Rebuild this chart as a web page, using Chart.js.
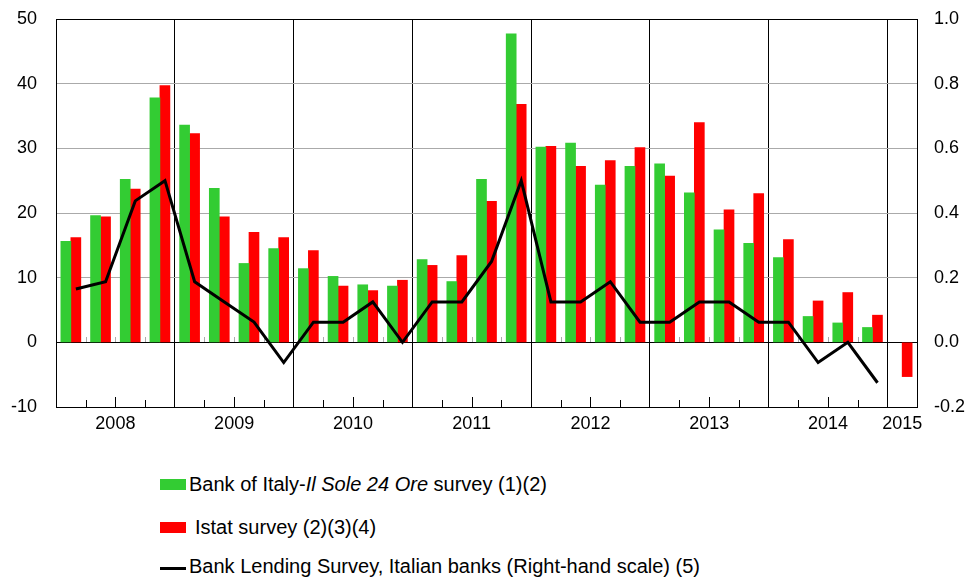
<!DOCTYPE html>
<html>
<head>
<meta charset="utf-8">
<script src="https://cdn.jsdelivr.net/npm/chart.js@4"></script>
<style>
  body { margin: 0; background: #fff; font-family: 'Liberation Sans', Arial, sans-serif; }
  #wrap { position: relative; width: 973px; height: 583px; overflow: hidden; }
  #myChart { position: absolute; left: 0; top: 0; }
  .leg { position: absolute; font-size: 20px; line-height: 20px; color: #000; white-space: nowrap; }
  .mark { position: absolute; left: 160px; width: 26px; }
</style>
</head>
<body>
<div id="wrap">
  <canvas id="myChart" width="973" height="440"></canvas>
  <div class="mark" style="top:479px;height:11px;background:#33cc33"></div>
  <div class="leg" style="left:189px;top:474px">Bank of Italy-<i>Il Sole 24 Ore</i> survey (1)(2)</div>
  <div class="mark" style="top:522px;height:11px;background:#ff0000"></div>
  <div class="leg" style="left:195px;top:517px">Istat survey (2)(3)(4)</div>
  <div class="mark" style="top:567px;height:3px;background:#000"></div>
  <div class="leg" style="left:189px;top:556px">Bank Lending Survey, Italian banks (Right-hand scale) (5)</div>
</div>
<script>
// quarters 2008 Q1 .. 2015 Q1
var quarters = [
  '2008 Q1', '2008 Q2', '2008 Q3', '2008 Q4',
  '2009 Q1', '2009 Q2', '2009 Q3', '2009 Q4',
  '2010 Q1', '2010 Q2', '2010 Q3', '2010 Q4',
  '2011 Q1', '2011 Q2', '2011 Q3', '2011 Q4',
  '2012 Q1', '2012 Q2', '2012 Q3', '2012 Q4',
  '2013 Q1', '2013 Q2', '2013 Q3', '2013 Q4',
  '2014 Q1', '2014 Q2', '2014 Q3', '2014 Q4',
  '2015 Q1',
];
var years = ['2008', '2009', '2010', '2011', '2012', '2013', '2014', '2015'];

// Bank of Italy - Il Sole 24 Ore survey
var bancaItalia = [
  15.6, 19.6, 25.2, 37.8, 33.6, 23.8, 12.2, 14.5,
  11.4, 10.2, 8.9, 8.7, 12.8, 9.4, 25.2, 47.7,
  30.2, 30.8, 24.3, 27.2, 27.6, 23.1, 17.4, 15.3,
  13.1, 4.0, 3.0, 2.3, null,
];
// Istat survey
var istat = [
  16.2, 19.4, 23.7, 39.7, 32.3, 19.4, 17.0, 16.2,
  14.2, 8.7, 8.0, 9.6, 11.9, 13.4, 21.8, 36.8,
  30.3, 27.2, 28.1, 30.1, 25.7, 34.0, 20.5, 23.0,
  15.9, 6.4, 7.7, 4.2, -5.3,
];
// Bank Lending Survey (right-hand scale)
var bls = [
  0.165, 0.1875, 0.4375, 0.5, 0.1875, 0.125, 0.0625, -0.0625,
  0.0625, 0.0625, 0.125, 0, 0.125, 0.125, 0.25, 0.5,
  0.125, 0.125, 0.1875, 0.0625, 0.0625, 0.125, 0.125, 0.0625,
  0.0625, -0.0625, 0, -0.125, null,
];

var leftTicks = [-10, 0, 10, 20, 30, 40, 50];
var rightTicks = [-0.2, 0, 0.2, 0.4, 0.6, 0.8, 1.0];

var fontFamily = "'Liberation Sans', Arial, sans-serif";

// year label sits in the middle of its quarters
var yearCenters = years.map(function (y) {
  var idx = [];
  quarters.forEach(function (q, i) { if (q.indexOf(y) === 0) idx.push(i); });
  return (idx[0] + idx[idx.length - 1]) / 2;
});

// line points sit over the red bars (a bit right of the category centre)
var lineShift = 0.17;
var blsPoints = bls.map(function (v, i) {
  return { x: i + lineShift, y: v };
});

// small quarter ticks on the bottom axis and on the zero line
var quarterTicks = {
  id: 'quarterTicks',
  beforeDatasetsDraw: function (chart) {
    var ctx = chart.ctx;
    var xs = chart.scales.x;
    var ys = chart.scales.y;
    var zero = Math.round(ys.getPixelForValue(0));
    var bottom = Math.round(chart.chartArea.bottom);
    ctx.save();
    ctx.lineWidth = 1;
    for (var i = 1; i < quarters.length; i++) {
      if (quarters[i].indexOf('Q1') > 0) continue;
      var x = Math.round((xs.getPixelForValue(i - 1) + xs.getPixelForValue(i)) / 2) + 0.5;
      var len = quarters[i].indexOf('Q3') > 0 ? 10 : 7;
      ctx.strokeStyle = '#000';
      ctx.beginPath();
      ctx.moveTo(x, bottom);
      ctx.lineTo(x, bottom - len);
      ctx.stroke();
      ctx.strokeStyle = '#aaa';
      ctx.beginPath();
      ctx.moveTo(x, zero);
      ctx.lineTo(x, zero - 5);
      ctx.stroke();
    }
    ctx.restore();
  },
};

window.onload = function () {
  var ctx = document.getElementById('myChart').getContext('2d');
  var myChart = new Chart(ctx, {
    data: {
      labels: quarters,
      datasets: [
        {
          type: 'line',
          label: 'Bank Lending Survey, Italian banks (Right-hand scale) (5)',
          data: blsPoints,
          xAxisID: 'xl',
          yAxisID: 'y1',
          borderColor: '#000',
          borderWidth: 3,
          pointRadius: 0,
          tension: 0,
          order: 0,
        },
        {
          type: 'bar',
          label: 'Bank of Italy-Il Sole 24 Ore survey (1)(2)',
          data: bancaItalia,
          xAxisID: 'x',
          yAxisID: 'y',
          backgroundColor: '#33cc33',
          barThickness: 10,
          order: 1,
        },
        {
          type: 'bar',
          label: 'Istat survey (2)(3)(4)',
          data: istat,
          xAxisID: 'x',
          yAxisID: 'y',
          backgroundColor: '#ff0000',
          barThickness: 10,
          order: 1,
        },
      ],
    },
    options: {
      responsive: false,
      animation: false,
      layout: { padding: { top: 19, bottom: 3, left: 0, right: 0 } },
      plugins: {
        legend: { display: false },
        tooltip: { enabled: false },
      },
      scales: {
        x: {
          type: 'category',
          position: 'bottom',
          offset: true,
          ticks: { display: false },
          border: { display: true, color: '#000', width: 1 },
          grid: {
            offset: true,
            drawTicks: false,
            lineWidth: 1,
            color: function (c) {
              var i = c.index;
              if (i > 0 && i < quarters.length && quarters[i].indexOf('Q1') > 0) return '#000';
              return 'rgba(0,0,0,0)';
            },
          },
          afterFit: function (axis) { axis.height = 0; },
        },
        xl: {
          type: 'linear',
          position: 'bottom',
          min: -0.5,
          max: quarters.length - 0.5,
          offset: false,
          grid: { display: false, drawTicks: false },
          border: { display: false },
          afterBuildTicks: function (axis) {
            axis.ticks = yearCenters.map(function (v) { return { value: v }; });
          },
          ticks: {
            autoSkip: false,
            maxRotation: 0,
            padding: 6,
            color: '#000',
            font: { family: fontFamily, size: 18 },
            callback: function (value) {
              var k = yearCenters.indexOf(value);
              return k >= 0 ? years[k] : '';
            },
          },
          afterFit: function (axis) { axis.height = 30; },
        },
        y: {
          position: 'left',
          min: leftTicks[0],
          max: leftTicks[leftTicks.length - 1],
          afterBuildTicks: function (axis) {
            axis.ticks = leftTicks.map(function (v) { return { value: v }; });
          },
          border: { display: true, color: '#000', width: 1 },
          grid: {
            drawTicks: true,
            tickLength: 19,
            tickColor: 'rgba(0,0,0,0)',
            color: function (c) {
              var v = c.tick ? c.tick.value : null;
              if (v === 0 || v === 50 || v === -10) return '#000';
              return '#aaa';
            },
          },
          ticks: {
            padding: 0,
            color: '#000',
            font: { family: fontFamily, size: 18 },
          },
          afterFit: function (axis) { axis.width = 56; },
        },
        y1: {
          position: 'right',
          min: rightTicks[0],
          max: rightTicks[rightTicks.length - 1],
          afterBuildTicks: function (axis) {
            axis.ticks = rightTicks.map(function (v) { return { value: v }; });
          },
          border: { display: true, color: '#000', width: 1 },
          grid: {
            display: true,
            drawOnChartArea: false,
            drawTicks: true,
            tickLength: 17,
            tickColor: 'rgba(0,0,0,0)',
          },
          ticks: {
            padding: 0,
            color: '#000',
            font: { family: fontFamily, size: 18 },
            callback: function (value) { return Number(value).toFixed(1); },
          },
          afterFit: function (axis) { axis.width = 56; },
        },
      },
    },
    plugins: [quarterTicks],
  });
};
</script>
</body>
</html>
